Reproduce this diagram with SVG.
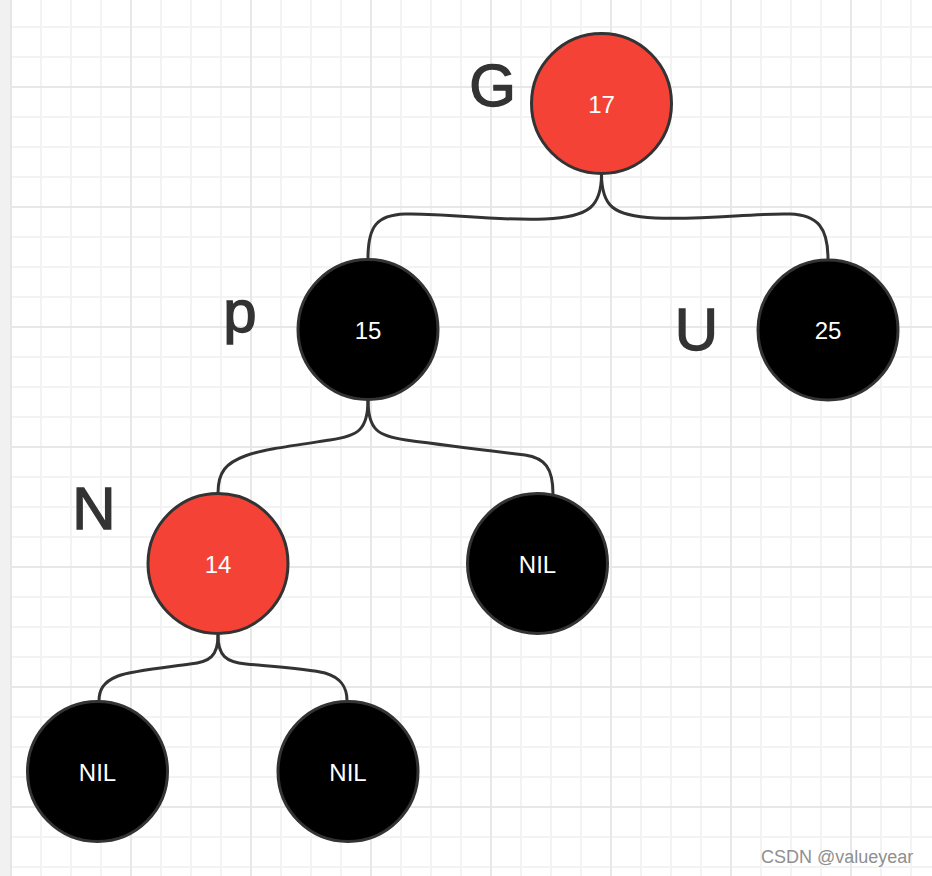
<svg xmlns="http://www.w3.org/2000/svg" width="932" height="876" viewBox="0 0 932 876">
  <defs>
    <pattern id="gridMinor" x="10" y="26" width="30" height="30" patternUnits="userSpaceOnUse">
      <rect x="0" y="0" width="30" height="2" fill="#f3f3f3"/>
      <rect x="0" y="0" width="2" height="30" fill="#f3f3f3"/>
    </pattern>
    <pattern id="gridMajor" x="10" y="86" width="120" height="120" patternUnits="userSpaceOnUse">
      <rect x="0" y="0" width="120" height="2" fill="#e8e8e8"/>
      <rect x="0" y="0" width="2" height="120" fill="#e8e8e8"/>
    </pattern>
    <style>
      .node-red { fill: #f44336; stroke: #333333; stroke-width: 3; }
      .node-black { fill: #000000; stroke: #333333; stroke-width: 3; }
      .val { fill: #ffffff; font-family: "Liberation Sans", Arial, sans-serif; font-size: 24px; text-anchor: middle; }
      .lbl { fill: #333333; stroke: #333333; stroke-width: 1.4; font-family: "Liberation Sans", Arial, sans-serif; font-size: 60px; text-anchor: middle; }
      .edge { fill: none; stroke: #333333; stroke-width: 3; stroke-linecap: round; }
      .mark { fill: #8f8f8f; font-family: "Liberation Sans", Arial, sans-serif; font-size: 18px; }
    </style>
  </defs>

  <g id="background">
    <rect x="0" y="0" width="932" height="876" fill="#ffffff"/>
    <rect x="0" y="0" width="932" height="876" fill="url(#gridMinor)"/>
    <rect x="0" y="0" width="932" height="876" fill="url(#gridMajor)"/>
    <rect x="0" y="0" width="10" height="876" fill="#f1f1f1"/>
    <rect x="10" y="0" width="2" height="876" fill="#e6e6e6"/>
  </g>

  <g id="connectors">
    <path class="edge" d="M601.5,174 C601.5,206 590,217 545,219 C490,221 450,213 405,214 C377,215 368,226 368,258"/>
    <path class="edge" d="M601.5,174 C601.5,206 613,216 655,218 C710,220 750,213 790,214 C818,215 828,228 828,259"/>
    <path class="edge" d="M368,400 C368,430 358,436 330,440 C290,446 260,450 245,456 C226,463 218,472 218,493"/>
    <path class="edge" d="M368,400 C368,430 378,436 406,440 C450,446 500,452 525,455 C545,458 553,468 553,494"/>
    <path class="edge" d="M218,635 C218,656 210,662 190,664 C160,668 130,671 118,676 C103,682 99,690 99,701"/>
    <path class="edge" d="M218,635 C218,656 226,662 246,664 C280,667 310,669 325,673 C342,678 347,688 347,701"/>
  </g>

  <g id="node-17">
    <circle class="node-red" cx="601.5" cy="103.5" r="70"/>
    <text class="val" x="601.5" y="113">17</text>
  </g>
  <g id="label-G">
    <text class="lbl" x="492.5" y="106">G</text>
  </g>

  <g id="node-15">
    <circle class="node-black" cx="368" cy="329.5" r="70"/>
    <text class="val" x="368" y="338.5">15</text>
  </g>
  <g id="label-p">
    <text class="lbl" x="240" y="332">p</text>
  </g>

  <g id="node-25">
    <circle class="node-black" cx="828" cy="330" r="70"/>
    <text class="val" x="828" y="339">25</text>
  </g>
  <g id="label-U">
    <text class="lbl" x="696.5" y="350">U</text>
  </g>

  <g id="node-14">
    <circle class="node-red" cx="218" cy="563.5" r="70"/>
    <text class="val" x="218" y="573">14</text>
  </g>
  <g id="label-N">
    <text class="lbl" x="94" y="529">N</text>
  </g>

  <g id="node-nil-right-of-15">
    <circle class="node-black" cx="537.5" cy="563.5" r="70"/>
    <text class="val" x="537.5" y="573">NIL</text>
  </g>

  <g id="node-nil-left-of-14">
    <circle class="node-black" cx="97.5" cy="771.5" r="70"/>
    <text class="val" x="97.5" y="781">NIL</text>
  </g>

  <g id="node-nil-right-of-14">
    <circle class="node-black" cx="348" cy="771.5" r="70"/>
    <text class="val" x="348" y="781">NIL</text>
  </g>

  <g id="watermark">
    <text class="mark" x="761" y="862.5">CSDN @valueyear</text>
  </g>
</svg>
